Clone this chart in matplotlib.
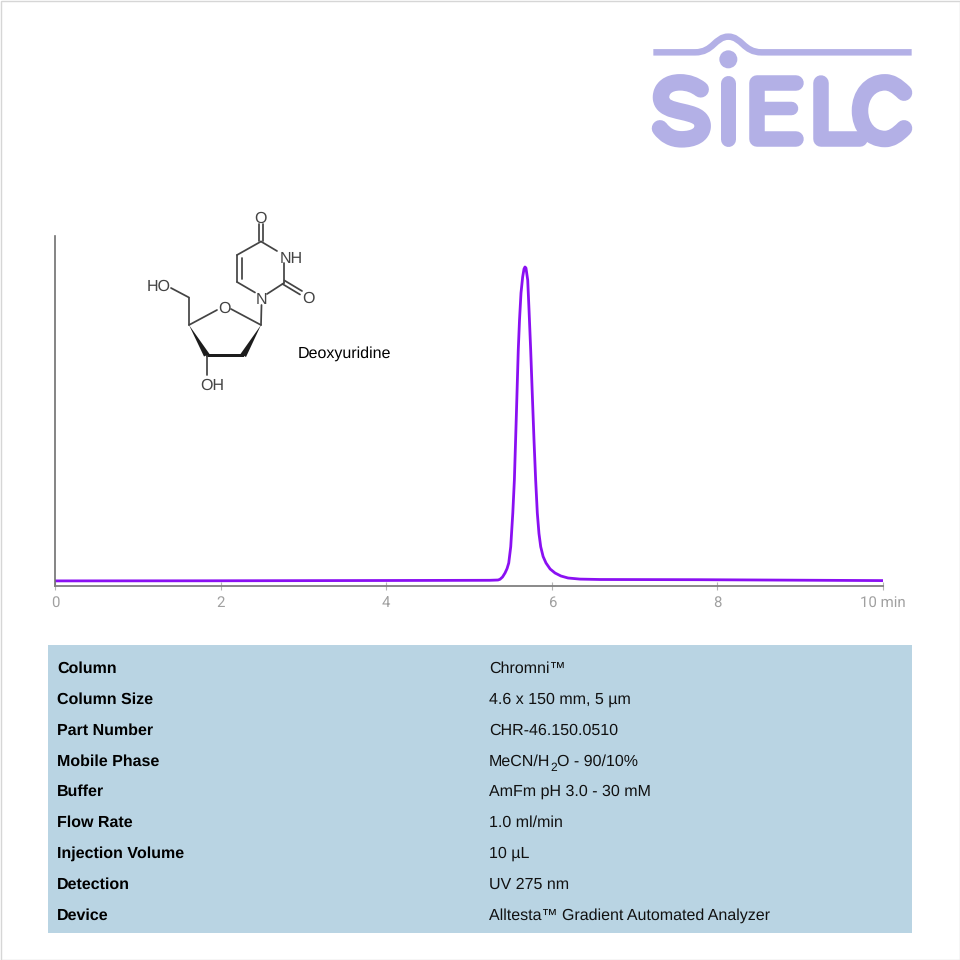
#!/usr/bin/env python3
"""Deoxyuridine chromatogram with logo, structure and method table."""

import matplotlib
matplotlib.use("Agg")
import matplotlib.pyplot as plt
from matplotlib.patches import Circle, PathPatch, Polygon, Rectangle
from matplotlib.path import Path

plt.rcParams['font.family'] = ['Liberation Sans', 'DejaVu Sans']
plt.rcParams['text.hinting'] = 'no_hinting'
plt.rcParams['text.hinting_factor'] = 1

time_min = [0, 1.75, 4, 5.25, 5.35, 5.374, 5.405, 5.435, 5.46, 5.48, 5.504, 5.529,
            5.548, 5.572, 5.595, 5.61, 5.628, 5.648, 5.664, 5.676, 5.688, 5.709, 5.725,
            5.745, 5.767, 5.785, 5.805, 5.825, 5.845, 5.866, 5.895, 5.93, 5.98, 6.039,
            6.11, 6.196, 6.34, 6.582, 7.79, 9.0, 10]
signal = [4.6, 4.7, 5, 5.2, 5.5, 6.2, 8.5, 12.5, 17, 22.5, 38.8, 72.5,
          105.5, 170.5, 235.5, 265.5, 292.5, 308.5, 316.5, 318.5, 317.5, 305.5, 275.5,
          235.5, 185.5, 145.5, 105.5, 72.5, 52, 38.8, 29, 22.5, 16.5, 12.5,
          9.5, 7.5, 6.4, 6, 5.8, 5.3, 4.9]
tick_pos = [0, 2, 4, 6, 8, 10]
tick_labels = ['0', '2', '4', '6', '8', '10 min']

param_names = ['Column', 'Column Size', 'Part Number', 'Mobile Phase', 'Buffer',
               'Flow Rate', 'Injection Volume', 'Detection', 'Device']
param_values = ['Chromni™', '4.6 x 150 mm, 5 µm', 'CHR-46.150.0510',
                ['MeCN/H', '2', 'O - 90/10%'], 'AmFm pH 3.0 - 30 mM', '1.0 ml/min', '10 µL',
                'UV 275 nm', 'Alltesta™ Gradient Automated Analyzer']
row_y = [667, 698, 729, 760, 790, 821, 852, 883, 914]

LOGO = '#b3b0e6'
INK = '#444444'
PX = 0.72  # points per pixel at dpi 100


def logo_xy(zx, zy):
    # logo coordinates were measured on a 3x crop starting at (630, 20)
    return 630 + zx / 3, 20 + zy / 3


def stroke(ax, pts, codes, width, cap='round'):
    verts = [logo_xy(*p) for p in pts]
    ax.add_patch(PathPatch(Path(verts, codes), fc='none', ec=LOGO, lw=width * PX,
                           capstyle=cap, joinstyle='round'))


def draw_logo(ax):
    M, L, C = Path.MOVETO, Path.LINETO, Path.CURVE4
    # swoosh
    stroke(ax, [(70, 97), (195, 97), (250, 97), (255, 50), (295, 50),
                (335, 50), (340, 97), (395, 97), (845, 97)],
           [M, L, C, C, C, C, C, C, L], 6.5, cap='butt')
    cx, cy = logo_xy(295, 118)
    ax.add_patch(Circle((cx, cy), 9, fc=LOGO, ec='none'))
    # S
    stroke(ax, [(212, 208), (195, 195), (175, 187), (150, 187), (115, 187), (93, 205), (93, 232),
                (93, 262), (125, 268), (155, 275), (190, 283), (218, 290), (218, 318),
                (218, 345), (190, 358), (155, 358), (125, 358), (105, 345), (90, 325)],
           [M] + [C] * 18, 16.5)
    # I
    stroke(ax, [(295, 188), (295, 357)], [M, L], 15)
    # E
    stroke(ax, [(497, 188), (380, 188), (380, 357), (497, 357)], [M, L, L, L], 15.5)
    stroke(ax, [(380, 265), (483, 265)], [M, L], 13.5)
    # L
    stroke(ax, [(572, 188), (572, 357), (690, 357)], [M, L, L], 15.5)
    # C
    stroke(ax, [(822, 218), (800, 197), (785, 187), (765, 187), (720, 187), (690, 225), (690, 272),
                (690, 320), (720, 357), (765, 357), (785, 357), (802, 345), (822, 325)],
           [M] + [C] * 12, 16.5)


def bond(ax, a, b, lw=1.25):
    ax.plot([a[0], b[0]], [a[1], b[1]], color=INK, lw=lw, solid_capstyle='round')


def draw_structure(ax):
    c4, c5, c6 = (261, 241.5), (237, 255), (237, 282)
    c2, n3 = (284, 283), (284, 263)
    c1, o4, c4p = (261, 325), (231, 309), (189, 325)
    c3p, c5p = (206.7, 355.5), (189, 297.5)

    bond(ax, c4, c5)
    bond(ax, c5, c6)
    bond(ax, (241.5, 258), (241.5, 279))
    bond(ax, c6, (255, 292.5))
    bond(ax, (267, 294), c2)
    bond(ax, c2, n3)
    bond(ax, c4, (277, 251))
    bond(ax, (259, 224), (259, 241))
    bond(ax, (263, 224), (263, 241))
    bond(ax, (284.5, 280.5), (302, 291))
    bond(ax, (282.5, 284), (300, 294.5))
    bond(ax, (261.5, 305), c1)
    bond(ax, c1, o4)
    bond(ax, (217, 310), c4p)
    bond(ax, c4p, c5p)
    bond(ax, c5p, (171, 288))
    bond(ax, c3p, (206.7, 375))
    ax.add_patch(Polygon([c4p, (204, 356.5), (209.5, 354)], fc='#1c1c1c', ec='none'))
    ax.add_patch(Polygon([c1, (240.5, 354), (246, 357)], fc='#1c1c1c', ec='none'))
    ax.add_patch(Rectangle((206, 353.7), 38, 3.4, fc='#1c1c1c', ec='none'))

    for txt, x, y in [('O', 260.5, 217), ('NH', 291, 257), ('O', 308, 297), ('N', 261.5, 298),
                      ('O', 224.3, 307), ('HO', 158.5, 285), ('OH', 212.5, 384.5)]:
        ax.text(x, y, txt, fontsize=11.5, color=INK, ha='center', va='center_baseline')


def main():
    fig = plt.figure(figsize=(9.6, 9.6), dpi=100, facecolor='white')

    # page layer in pixel coordinates
    page = fig.add_axes([0, 0, 1, 1])
    page.set_xlim(0, 960)
    page.set_ylim(960, 0)
    page.axis('off')
    page.add_patch(Rectangle((0.5, 0.5), 959, 959, fc='white', ec='#d6d6d6', lw=1.0))
    page.add_patch(Rectangle((48, 645), 864, 288, fc='#b9d4e3', ec='none'))
    for name, value, y in zip(param_names, param_values, row_y):
        base = y + 5.5
        page.text(57, base, name, fontsize=11.5, fontweight='bold', color='black', va='baseline')
        if isinstance(value, list):
            # subscript sits lower than mathtext would put it
            page.text(489, base, value[0], fontsize=11.5, color='#111111', va='baseline')
            page.text(550.7, base + 5.5, value[1], fontsize=8.3, color='#111111', va='baseline')
            page.text(557, base, value[2], fontsize=11.5, color='#111111', va='baseline')
        else:
            page.text(489, base, value, fontsize=11.5, color='#111111', va='baseline')
    draw_logo(page)
    draw_structure(page)
    page.text(298, 358, 'Deoxyuridine', fontsize=11.5, color='black', va='baseline')

    # chromatogram
    ax = fig.add_axes([55 / 960, (960 - 586) / 960, 828 / 960, 350 / 960])
    ax.patch.set_alpha(0)
    ax.plot(time_min, signal, color='#8a10f2', lw=2.0, solid_joinstyle='round')
    ax.set_xlim(0, 10)
    ax.set_ylim(-0.5, 349.5)
    ax.set_xticks(tick_pos, tick_labels)
    ax.set_yticks([])
    ax.tick_params(axis='x', direction='inout', length=6, width=0.8, color='#b5b5b5',
                   labelcolor='#a0a0a0', labelsize=11, pad=4)
    for lab in ax.get_xticklabels():
        lab.set_fontfamily('Roboto')
    ax.spines['top'].set_visible(False)
    ax.spines['right'].set_visible(False)
    ax.spines['left'].set_color('#707070')
    ax.spines['bottom'].set_color('#808080')
    ax.spines['left'].set_linewidth(1.2)
    ax.spines['bottom'].set_linewidth(1.3)

    fig.savefig('out.png', dpi=100, facecolor='white')
    plt.close(fig)


if __name__ == "__main__":
    main()
